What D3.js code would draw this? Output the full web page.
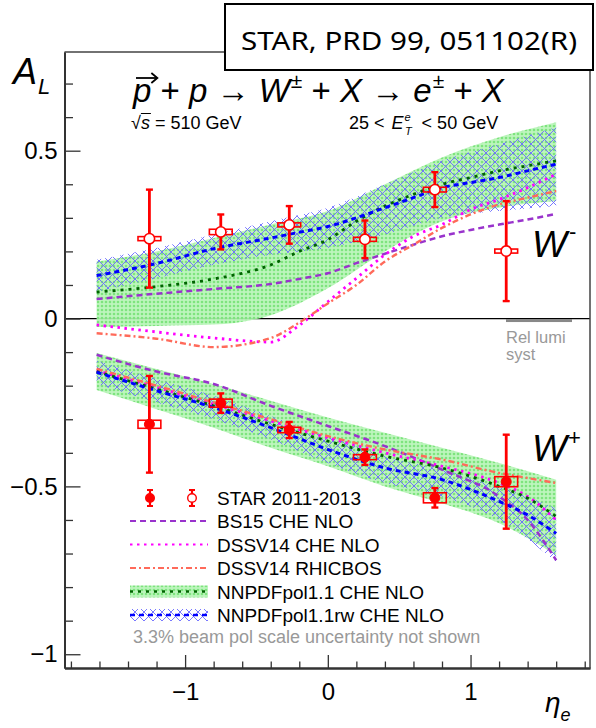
<!DOCTYPE html>
<html><head><meta charset="utf-8">
<script src="https://cdn.jsdelivr.net/npm/d3@7"></script>
<style>body{margin:0;background:#fff}svg{display:block;font-family:"Liberation Sans",Arial,sans-serif}svg text{white-space:pre}</style>
</head><body><script>
// ---------------- data ----------------
const pointEta = [-1.25, -0.75, -0.27, 0.26, 0.75, 1.25];
const etaBinHalf = 0.08;
const wMinusAL   = [0.238, 0.258, 0.279, 0.236, 0.384, 0.201];
const wMinusStat = [0.146, 0.052, 0.056, 0.056, 0.052, 0.149];
const wMinusSyst = [0.006, 0.008, 0.006, 0.006, 0.007, 0.006];
const wPlusAL    = [-0.315, -0.252, -0.332, -0.413, -0.534, -0.486];
const wPlusStat  = [0.144, 0.029, 0.024, 0.023, 0.029, 0.14];
const wPlusSyst  = [0.012, 0.012, 0.008, 0.0075, 0.015, 0.015];

const bandEta = [-1.62, -1.2, -0.8, -0.4, 0, 0.4, 0.8, 1.2, 1.6];
const nnpdfWmUpper = [0.17, 0.20, 0.24, 0.28, 0.32, 0.40, 0.48, 0.54, 0.585];
const nnpdfWmLower = [-0.025, -0.022, -0.018, 0.01, 0.09, 0.20, 0.29, 0.33, 0.35];
const rwWmUpper = [0.175, 0.21, 0.25, 0.29, 0.33, 0.40, 0.47, 0.52, 0.57];
const rwWmLower = [0.08, 0.12, 0.16, 0.19, 0.21, 0.25, 0.30, 0.32, 0.335];
const nnpdfWpUpper = [-0.103, -0.15, -0.195, -0.245, -0.295, -0.34, -0.385, -0.43, -0.48];
const nnpdfWpLower = [-0.213, -0.27, -0.325, -0.385, -0.44, -0.5, -0.55, -0.61, -0.705];
const rwWpUpper = [-0.125, -0.18, -0.23, -0.29, -0.35, -0.41, -0.45, -0.5, -0.565];
const rwWpLower = [-0.195, -0.25, -0.3, -0.36, -0.43, -0.49, -0.53, -0.6, -0.725];

const lineEtaWm = [-1.62, -1.2, -0.8, -0.4, -0.2, 0, 0.2, 0.4, 0.6, 0.8, 1.0, 1.2, 1.4, 1.6];
const nnpdfWm = [0.079, 0.095, 0.118, 0.16, 0.2, 0.235, 0.29, 0.335, 0.37, 0.40, 0.42, 0.44, 0.455, 0.47];
const rwWm    = [0.128, 0.164, 0.208, 0.24, 0.257, 0.274, 0.30, 0.33, 0.36, 0.39, 0.405, 0.42, 0.44, 0.46];
const bs15Wm  = [0.058, 0.074, 0.088, 0.103, 0.118, 0.135, 0.165, 0.193, 0.22, 0.245, 0.264, 0.28, 0.295, 0.312];
const dssvWm  = [-0.019, -0.04, -0.058, -0.07, -0.02, 0.05, 0.12, 0.19, 0.245, 0.28, 0.325, 0.355, 0.39, 0.43];
const rhicWm  = [-0.044, -0.06, -0.085, -0.058, -0.012, 0.045, 0.10, 0.17, 0.22, 0.27, 0.31, 0.34, 0.36, 0.38];

const lineEtaWp = [-1.62, -1.2, -0.8, -0.4, 0, 0.4, 0.8, 1.2, 1.4, 1.6];
const nnpdfWp = [-0.158, -0.21, -0.26, -0.315, -0.365, -0.41, -0.445, -0.5, -0.535, -0.59];
const rwWp    = [-0.16, -0.215, -0.265, -0.325, -0.39, -0.445, -0.48, -0.545, -0.585, -0.64];
const bs15Wp  = [-0.108, -0.158, -0.195, -0.26, -0.32, -0.38, -0.45, -0.53, -0.6, -0.72];
const dssvWp  = [-0.155, -0.205, -0.255, -0.305, -0.355, -0.4, -0.44, -0.49, -0.53, -0.6];
const rhicWp  = [-0.15, -0.2, -0.25, -0.3, -0.35, -0.39, -0.42, -0.46, -0.475, -0.49];

const yMajorTicks = [-1, -0.5, 0, 0.5];
const yTickLabels = ["\u22121", "\u22120.5", "0", "0.5"];
const xMajorTicks = [-1, 0, 1];
const xTickLabels = ["\u22121", "0", "1"];
const legendLabels = ["STAR 2011-2013", "BS15 CHE NLO", "DSSV14 CHE NLO", "DSSV14 RHICBOS", "NNPDFpol1.1 CHE NLO", "NNPDFpol1.1rw CHE NLO"];

// ---------------- setup ----------------
const W = 596, H = 728;
const svg = d3.select("body").append("svg").attr("width", W).attr("height", H);
const x = d3.scaleLinear().domain([-1.845, 1.837]).range([64.5, 590]);
const y = d3.scaleLinear().domain([-1.041, 0.794]).range([668, 52]);

const defs = svg.append("defs");
const gp = defs.append("pattern").attr("id", "greenPat").attr("patternUnits", "userSpaceOnUse").attr("width", 4).attr("height", 4);
gp.append("rect").attr("width", 4).attr("height", 4).attr("fill", "#b6f4b6").attr("fill-opacity", 0.9);
gp.append("circle").attr("cx", 2).attr("cy", 2).attr("r", 1.3).attr("fill", "#7ee47e");
const bp = defs.append("pattern").attr("id", "bluePat").attr("patternUnits", "userSpaceOnUse").attr("width", 9).attr("height", 9);
bp.append("path").attr("d", "M0,0L9,9M0,9L9,0").attr("stroke", "#6a6aff").attr("stroke-width", 0.9).attr("fill", "none");

const RED = "#ff0000";
const curve = d3.curveMonotoneX;
const plot = svg.append("g");

// zero line
plot.append("line").attr("x1", x.range()[0]).attr("x2", x.range()[1]).attr("y1", y(0)).attr("y2", y(0))
  .attr("stroke", "#000").attr("stroke-width", 1.2);

function band(up, lo, fill) {
  const data = bandEta.map((e, i) => ({e, u: up[i], l: lo[i]}));
  plot.append("path").datum(data)
    .attr("d", d3.area().x(d => x(d.e)).y0(d => y(d.l)).y1(d => y(d.u)).curve(curve))
    .attr("fill", fill).attr("stroke", "none");
}
band(nnpdfWmUpper, nnpdfWmLower, "url(#greenPat)");
band(nnpdfWpUpper, nnpdfWpLower, "url(#greenPat)");
band(rwWmUpper, rwWmLower, "url(#bluePat)");
band(rwWpUpper, rwWpLower, "url(#bluePat)");

const styles = {
  bs15: {color: "#9933cc", width: 2.5, dash: "6 4"},
  dssv: {color: "#ff00ff", width: 2.8, dash: "2.5 4.5"},
  rhic: {color: "#ff6a5a", width: 2.4, dash: "6 3 2 3"},
  nnpdf: {color: "#006400", width: 2.8, dash: "3 5"},
  rw: {color: "#0000ff", width: 3, dash: "5 4"}
};
function curveLine(etas, vals, st) {
  const data = etas.map((e, i) => ({e, v: vals[i]}));
  plot.append("path").datum(data)
    .attr("d", d3.line().x(d => x(d.e)).y(d => y(d.v)).curve(curve))
    .attr("fill", "none").attr("stroke", st.color).attr("stroke-width", st.width).attr("stroke-dasharray", st.dash);
}
curveLine(lineEtaWm, bs15Wm, styles.bs15);
curveLine(lineEtaWm, dssvWm, styles.dssv);
curveLine(lineEtaWm, rhicWm, styles.rhic);
curveLine(lineEtaWm, nnpdfWm, styles.nnpdf);
curveLine(lineEtaWm, rwWm, styles.rw);
curveLine(lineEtaWp, bs15Wp, styles.bs15);
curveLine(lineEtaWp, dssvWp, styles.dssv);
curveLine(lineEtaWp, rhicWp, styles.rhic);
curveLine(lineEtaWp, nnpdfWp, styles.nnpdf);
curveLine(lineEtaWp, rwWp, styles.rw);

// Rel lumi syst
plot.append("rect").attr("x", 506).attr("y", y(0) + 0.5).attr("width", 66).attr("height", 3).attr("fill", "#888");
plot.append("text").attr("x", 506).attr("y", 343).attr("fill", "#999").style("font-size", "16.5px").text("Rel lumi");
plot.append("text").attr("x", 506).attr("y", 360).attr("fill", "#999").style("font-size", "16.5px").text("syst");

// data points
function dataSet(vals, stat, syst, open) {
  const g = plot.append("g");
  pointEta.forEach((e, i) => {
    const v = vals[i];
    g.append("rect").attr("x", x(e - etaBinHalf)).attr("width", x(e + etaBinHalf) - x(e - etaBinHalf))
      .attr("y", y(v + syst[i])).attr("height", Math.max(y(v - syst[i]) - y(v + syst[i]), 1.5))
      .attr("fill", "none").attr("stroke", RED).attr("stroke-width", 1.6);
    g.append("line").attr("x1", x(e)).attr("x2", x(e)).attr("y1", y(v + stat[i])).attr("y2", y(v - stat[i]))
      .attr("stroke", RED).attr("stroke-width", 2.8);
    [v + stat[i], v - stat[i]].forEach(c => g.append("line").attr("x1", x(e) - 3.5).attr("x2", x(e) + 3.5)
      .attr("y1", y(c)).attr("y2", y(c)).attr("stroke", RED).attr("stroke-width", 2.4));
    g.append("circle").attr("cx", x(e)).attr("cy", y(v)).attr("r", open ? 5.2 : 5)
      .attr("fill", open ? "#fff" : RED).attr("stroke", RED).attr("stroke-width", open ? 1.6 : 1);
  });
}
dataSet(wMinusAL, wMinusStat, wMinusSyst, true);
dataSet(wPlusAL, wPlusStat, wPlusSyst, false);

// axes
const axG = svg.append("g");
const yMinor = d3.range(-10, 8).map(d => d / 10).filter(d => !yMajorTicks.some(t => Math.abs(t - d) < 1e-6));
const xMinor = d3.range(-9, 10).map(d => d / 5).filter(d => !xMajorTicks.some(t => Math.abs(t - d) < 1e-6));
axG.append("g").attr("transform", `translate(${x.range()[0]},0)`)
  .call(d3.axisLeft(y).tickValues(yMinor).tickSize(-8.5).tickSizeOuter(0).tickFormat(""));
axG.append("g").attr("transform", `translate(${x.range()[0]},0)`)
  .call(d3.axisLeft(y).tickValues(yMajorTicks).tickSize(-16).tickSizeOuter(0).tickPadding(7)
    .tickFormat((d, i) => yTickLabels[i]));
axG.append("g").attr("transform", `translate(0,${y.range()[0]})`)
  .call(d3.axisBottom(x).tickValues(xMinor).tickSize(-6.5).tickSizeOuter(0).tickFormat(""));
axG.append("g").attr("transform", `translate(0,${y.range()[0]})`)
  .call(d3.axisBottom(x).tickValues(xMajorTicks).tickSize(-13).tickSizeOuter(0).tickPadding(15)
    .tickFormat((d, i) => xTickLabels[i]));
axG.selectAll(".tick line").attr("stroke", "#333").attr("stroke-width", 1.3);
axG.selectAll(".domain").attr("stroke", "#333").attr("stroke-width", 2);
axG.selectAll("text").style("font-size", "24px").attr("fill", "#000").style("font-family", "'Liberation Sans',Arial,sans-serif");

// frame top/right
svg.append("path").attr("d", `M${x.range()[0]},${y.range()[1]}H${x.range()[1]}V${y.range()[0]}`)
  .attr("fill", "none").attr("stroke", "#444").attr("stroke-width", 1.5);

// title box
svg.append("rect").attr("x", 225).attr("y", 4).attr("width", 368).attr("height", 66)
  .attr("fill", "#fff").attr("stroke", "#000").attr("stroke-width", 2);
svg.append("text").attr("x", 409).attr("y", 50).attr("text-anchor", "middle")
  .style("font-family", "'Noto Sans','Open Sans',sans-serif").style("font-size", "26px")
  .attr("textLength", 336).attr("lengthAdjust", "spacingAndGlyphs")
  .text("STAR, PRD 99, 051102(R)");

// text run helper
function runs(x0, y0, parts) {
  let cx = x0;
  parts.forEach(p => {
    const t = svg.append("text").attr("x", cx + (p.dx || 0)).attr("y", y0 + (p.dy || 0))
      .style("font-size", p.size + "px").style("font-style", p.it ? "italic" : "normal")
      .attr("fill", p.fill || "#000").text(p.t);
    p.x = cx + (p.dx || 0); p.w = t.node().getComputedTextLength();
    cx = p.x + p.w;
  });
  return parts;
}
// A_L
runs(13, 84, [{t: "A", it: true, size: 36}, {t: "L", it: true, size: 22, dy: 10, dx: 1}]);

// equation
const eqS = 33, supS = 21;
const eq = runs(133, 102, [
  {t: "p", it: true, size: eqS}, {t: " + ", size: eqS}, {t: "p", it: true, size: eqS},
  {t: " \u2192 ", size: eqS}, {t: "W", it: true, size: eqS}, {t: "\u00b1", size: supS, dy: -14, dx: 1},
  {t: " + ", size: eqS}, {t: "X", it: true, size: eqS}, {t: " \u2192 ", size: eqS},
  {t: "e", it: true, size: eqS}, {t: "\u00b1", size: supS, dy: -14, dx: 1}, {t: " + ", size: eqS},
  {t: "X", it: true, size: eqS}
]);
const p0 = eq[0];
svg.append("path").attr("d", `M${p0.x + 3},${78}H${p0.x + p0.w + 5}`).attr("stroke", "#000").attr("stroke-width", 1.8);
svg.append("path").attr("d", `M${p0.x + p0.w},${73}L${p0.x + p0.w + 6},${78}L${p0.x + p0.w},${83}`)
  .attr("stroke", "#000").attr("stroke-width", 1.8).attr("fill", "none");

// sqrt s line
const sq = runs(131, 129, [{t: "\u221a", size: 18}, {t: "s", it: true, size: 18}, {t: " = 510 GeV", size: 18}]);
svg.append("line").attr("x1", sq[1].x).attr("x2", sq[1].x + sq[1].w + 1).attr("y1", 113.5).attr("y2", 113.5)
  .attr("stroke", "#000").attr("stroke-width", 1);
// E_T^e line as one text element with tspans
const et = svg.append("text").attr("x", 349).attr("y", 129).style("font-size", "18px");
et.append("tspan").text("25 < ");
et.append("tspan").attr("dx", 2).style("font-style", "italic").text("E");
et.append("tspan").attr("dx", 1).attr("dy", -8).style("font-style", "italic").style("font-size", "11px").text("e");
et.append("tspan").attr("dx", -5.8).attr("dy", 14).style("font-style", "italic").style("font-size", "11px").text("T");
et.append("tspan").attr("dy", -6).text("  < 50 GeV");

// W labels
runs(532, 257, [{t: "W", it: true, size: 37}, {t: "-", size: 22, dy: -18, dx: 2}]);
runs(532, 461, [{t: "W", it: true, size: 37}, {t: "+", size: 22, dy: -16, dx: 1}]);

// x axis title
runs(545, 712, [{t: "\u03b7", it: true, size: 28}, {t: "e", it: true, size: 18, dy: 9, dx: 0}]);

// legend
const lg = svg.append("g");
const lx0 = 130, lx1 = 208, ltx = 217;
const rowsY = [498, 521, 544.5, 568, 591.5, 615];
legendLabels.forEach((s, i) => {
  lg.append("text").attr("x", ltx).attr("y", rowsY[i] + 7).style("font-size", "19px").text(s);
});
[[150, false], [192, true]].forEach(([mx, open]) => {
  const cy = rowsY[0];
  lg.append("line").attr("x1", mx).attr("x2", mx).attr("y1", cy - 8).attr("y2", cy + 8).attr("stroke", RED).attr("stroke-width", 2.2);
  [cy - 8, cy + 8].forEach(c => lg.append("line").attr("x1", mx - 3).attr("x2", mx + 3).attr("y1", c).attr("y2", c).attr("stroke", RED).attr("stroke-width", 2));
  lg.append("circle").attr("cx", mx).attr("cy", cy).attr("r", 4.3).attr("fill", open ? "#fff" : RED).attr("stroke", RED).attr("stroke-width", 1.4);
});
[["bs15", 1], ["dssv", 2], ["rhic", 3]].forEach(([k, i]) => {
  const st = styles[k];
  lg.append("line").attr("x1", lx0).attr("x2", lx1).attr("y1", rowsY[i]).attr("y2", rowsY[i])
    .attr("stroke", st.color).attr("stroke-width", st.width - 0.6).attr("stroke-dasharray", st.dash);
});
lg.append("rect").attr("x", lx0).attr("y", rowsY[4] - 6).attr("width", lx1 - lx0).attr("height", 12).attr("fill", "url(#greenPat)");
lg.append("line").attr("x1", lx0).attr("x2", lx1).attr("y1", rowsY[4]).attr("y2", rowsY[4])
  .attr("stroke", styles.nnpdf.color).attr("stroke-width", 2.4).attr("stroke-dasharray", styles.nnpdf.dash);
lg.append("rect").attr("x", lx0).attr("y", rowsY[5] - 6).attr("width", lx1 - lx0).attr("height", 12).attr("fill", "url(#bluePat)");
lg.append("line").attr("x1", lx0).attr("x2", lx1).attr("y1", rowsY[5]).attr("y2", rowsY[5])
  .attr("stroke", styles.rw.color).attr("stroke-width", 2.6).attr("stroke-dasharray", styles.rw.dash);
lg.append("text").attr("x", 133).attr("y", 643).attr("fill", "#999").style("font-size", "18px")
  .text("3.3% beam pol scale uncertainty not shown");
</script></body></html>
